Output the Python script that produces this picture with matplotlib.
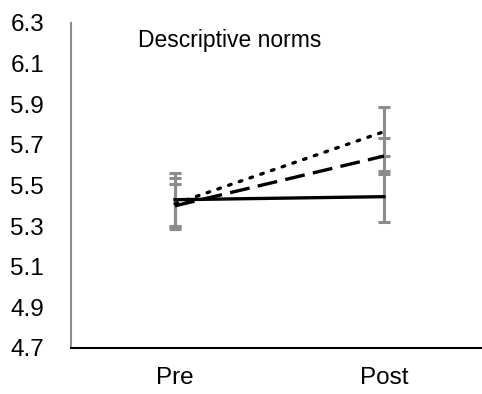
import matplotlib
matplotlib.use("Agg")
import matplotlib.pyplot as plt

plt.rcParams['font.family'] = ['Liberation Sans', 'DejaVu Sans']

# data
times = ["Pre", "Post"]
solid_means = [5.43, 5.445]
solid_err = [0.13, 0.125]
dashed_means = [5.40, 5.645]
dashed_err = [0.105, 0.09]
dotted_means = [5.41, 5.765]
dotted_err = [0.125, 0.12]
yticks = [4.7, 4.9, 5.1, 5.3, 5.5, 5.7, 5.9, 6.1, 6.3]

fig = plt.figure(figsize=(4.82, 3.94), dpi=100)
ax = fig.add_axes([70.5 / 482, 46 / 394, (482 - 70.5) / 482, 325 / 394])

x = [1, 2]
err_color = "#8c8c8c"
series = [
    (solid_means, solid_err, "-"),
    (dashed_means, dashed_err, (0, (6, 2.5))),
    (dotted_means, dotted_err, (0, (0.8, 2.6))),
]
for means, errs, ls in series:
    ax.errorbar(x, means, yerr=errs, fmt="none", ecolor=err_color,
                elinewidth=2.2, capsize=4.5, capthick=2.2, zorder=2)
for means, errs, ls in series:
    cap = "round" if ls != "-" and ls[1][0] < 1 else "butt"
    ax.plot(x, means, color="black", linewidth=2.4, linestyle=ls,
            dash_capstyle=cap, zorder=3)

ax.set_xlim(0.5, 0.5 + (482 - 70.5) / 209)
ax.set_ylim(4.7, 6.3)
ax.set_yticks(yticks)
ax.set_yticklabels([f"{t:.1f}" for t in yticks])
ax.set_xticks(x)
ax.set_xticklabels(times)
ax.tick_params(axis="both", length=0, labelsize=17.5)
ax.tick_params(axis="y", pad=19)
ax.tick_params(axis="x", pad=14)

for s in ["top", "right"]:
    ax.spines[s].set_visible(False)
ax.spines["left"].set_color("#8c8c8c")
ax.spines["left"].set_linewidth(1.5)
ax.spines["bottom"].set_color("black")
ax.spines["bottom"].set_linewidth(1.5)

fig.text(138 / 482, 1 - 40 / 394, "Descriptive norms",
         ha="left", va="center", fontsize=16.5)

fig.savefig("out.png", dpi=100)
